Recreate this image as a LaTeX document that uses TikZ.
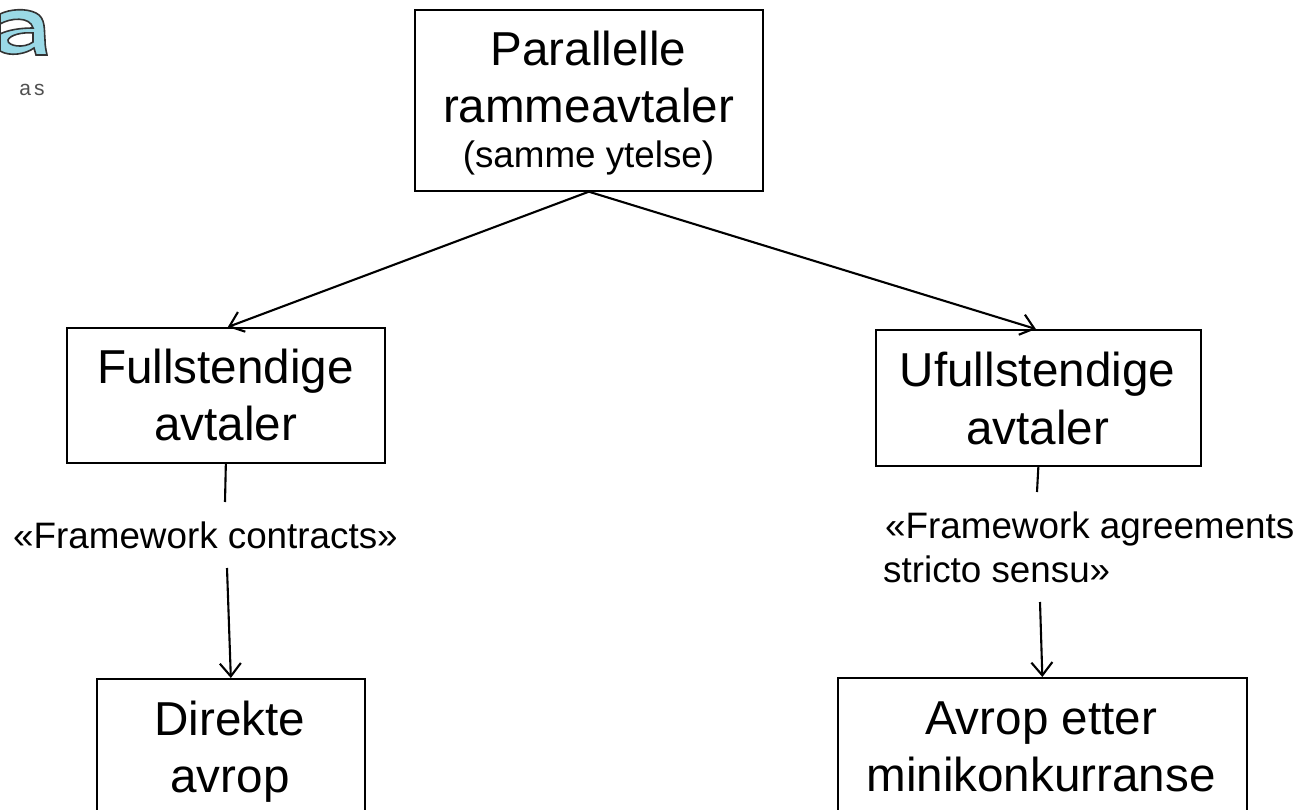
\documentclass[tikz,border=0pt]{standalone}
\usepackage{fontspec}
\setmainfont{Liberation Sans}
\usetikzlibrary{arrows.meta}
\definecolor{logocyan}{HTML}{9AD9E6}
\definecolor{logogrey}{HTML}{505050}
\tikzset{
  box/.style={draw=black,line width=1.7pt,inner sep=0pt,anchor=north west},
  big/.style={inner sep=0pt,align=center,anchor=base,font=\fontsize{47.6}{57}\selectfont},
  small/.style={inner sep=0pt,align=center,anchor=base,font=\fontsize{36.8}{44}\selectfont},
  lbl/.style={inner sep=0pt,align=left,anchor=base west,font=\fontsize{36.8}{44}\selectfont},
  conn/.style={draw=black,line width=2.1pt},
  arr/.style={conn,-{Straight Barb[length=13pt,width=21pt,line width=2.1pt]}}
}
\begin{document}
\begin{tikzpicture}[x=1pt,y=-1pt]
\useasboundingbox (0,0) rectangle (1298,810);
\node[box,minimum width=348pt,minimum height=181pt] (top) at (414,9) {};
\node[big] (t1) at (588.5,66) {Parallelle};
\node[big] (t2) at (588.5,123) {rammeavtaler};
\node[small] (t3) at (588.5,168) {(samme ytelse)};
\node[box,minimum width=318pt,minimum height=135pt] (fa) at (66,327) {};
\node[big] (f1) at (225.5,383) {Fullstendige};
\node[big] (f2) at (225.5,440) {avtaler};
\node[box,minimum width=325pt,minimum height=136pt] (ua) at (875,329) {};
\node[big] (u1) at (1037.5,386) {Ufullstendige};
\node[big] (u2) at (1037.5,444) {avtaler};
\node[box,minimum width=268pt,minimum height=150pt] (da) at (96,678) {};
\node[big] (d1) at (230,735) {Direkte};
\node[big] (d2) at (230,792) {avrop};
\node[box,minimum width=409pt,minimum height=150pt] (am) at (837,677) {};
\node[big] (a1) at (1041,734) {Avrop etter};
\node[big] (a2) at (1041,791) {minikonkurranse};
\node[lbl] (l1) at (13,548) {«Framework contracts»};
\node[lbl] (l2) at (885,538) {«Framework agreements};
\node[lbl] (l3) at (883,582) {stricto sensu»};
\coordinate (e1) at ([xshift=2pt]fa.north);
\coordinate (e2) at ([xshift=-2.5pt]ua.north);
\draw[arr] (top.south) -- (e1);
\draw[arr] (top.south) -- (e2);
\coordinate (a0) at (225,502);
\draw[conn] (fa.south) -- (a0);
\coordinate (b0) at (227,568);
\draw[arr] (b0) -- (da.north);
\coordinate (c0) at (1037,492);
\draw[conn] (ua.south) -- (c0);
\coordinate (d0) at (1040,602);
\draw[arr] (d0) -- (am.north);
\node[inner sep=0pt,text=logogrey,font=\fontsize{21}{21}\selectfont] (as) at (32,90) {a\hspace{3pt}s};
\fill[fill=logocyan,draw=black!80,line width=1.6pt,even odd rule]
 (0,14) .. controls (10,9) and (26,8) .. (36,13) .. controls (46,18) and (44,30) .. (45,40) .. controls (45,46) and (46,50) .. (47,55) -- (36,55) -- (34,48) .. controls (26,54) and (10,57) .. (0,51) -- cycle
 (33,33) .. controls (22,32) and (10,35) .. (8,40) .. controls (7,46) and (24,49) .. (33,42) -- cycle
 (0,24) .. controls (10,18) and (30,16) .. (33,28) .. controls (20,28) and (8,30) .. (0,34) -- cycle;
\end{tikzpicture}
\end{document}
